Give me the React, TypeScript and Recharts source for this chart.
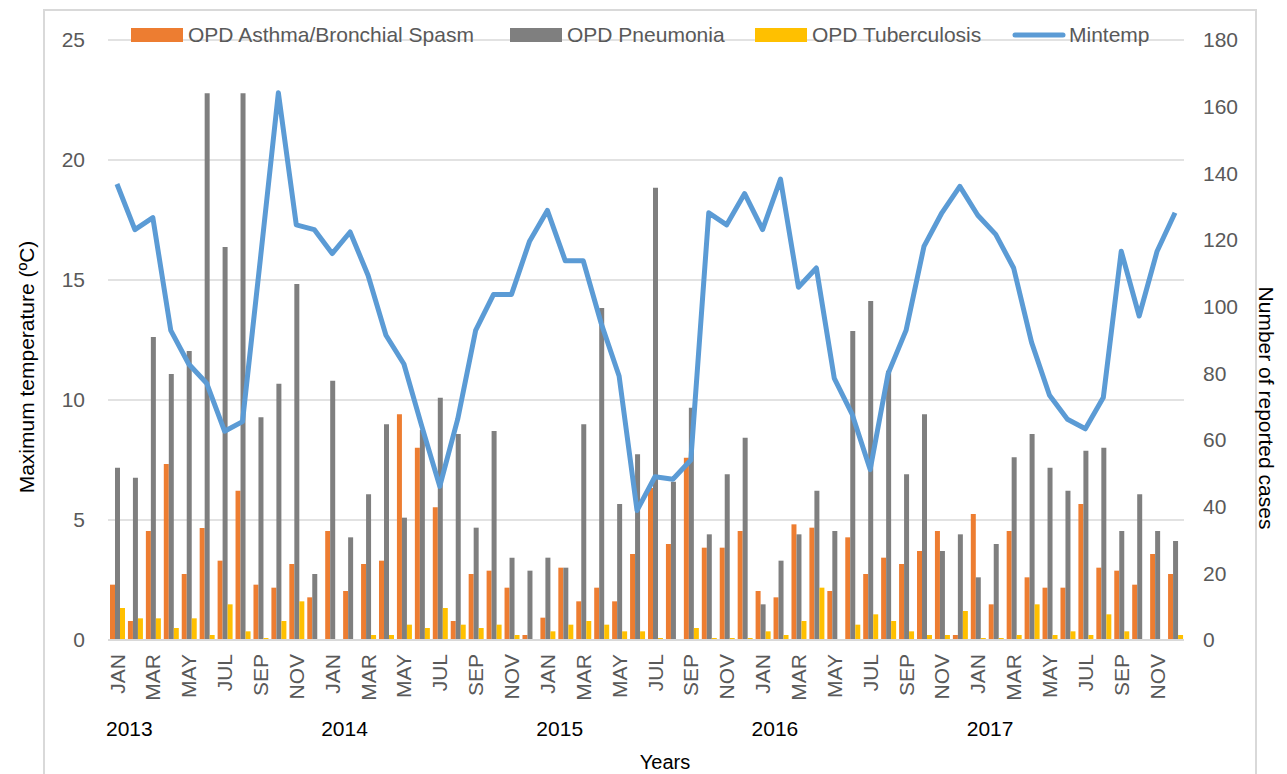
import { ComposedChart, Bar, Line, XAxis, YAxis, CartesianGrid } from 'recharts'

const monthNames = ['JAN', 'FEB', 'MAR', 'APR', 'MAY', 'JUN', 'JUL', 'AUG', 'SEP', 'OCT', 'NOV', 'DEC']
const years = ['2013', '2014', '2015', '2016', '2017']

// left axis, °C
const mintemp = [
  19.0, 17.1, 17.6, 12.9, 11.5, 10.7, 8.7, 9.1, 15.9, 22.8, 17.3, 17.1,
  16.1, 17.0, 15.2, 12.7, 11.5, 8.9, 6.4, 9.2, 12.9, 14.4, 14.4, 16.6,
  17.9, 15.8, 15.8, 13.2, 11.0, 5.4, 6.8, 6.7, 7.5, 17.8, 17.3, 18.6,
  17.1, 19.2, 14.7, 15.5, 10.9, 9.4, 7.1, 11.1, 12.9, 16.4, 17.8, 18.9,
  17.7, 16.9, 15.5, 12.4, 10.2, 9.2, 8.8, 10.1, 16.2, 13.5, 16.2, 17.8,
]

// right axis, reported cases
const asthma = [
  16.6, 5.7, 32.7, 52.8, 19.8, 33.6, 23.8, 44.8, 16.6, 15.7, 22.8, 12.8,
  32.7, 14.7, 22.8, 23.8, 67.7, 57.7, 39.8, 5.7, 19.8, 20.8, 15.7, 1.5,
  6.7, 21.7, 11.6, 15.7, 11.6, 25.8, 45.6, 28.8, 54.7, 27.7, 27.7, 32.7,
  14.7, 12.8, 34.7, 33.7, 14.7, 30.8, 19.8, 24.7, 22.8, 26.7, 32.7, 1.5,
  37.8, 10.7, 32.7, 18.8, 15.7, 15.7, 40.8, 21.7, 20.8, 16.6, 25.8, 19.8,
]
const pneumonia = [
  51.7, 48.7, 90.9, 79.8, 86.7, 164, 117.9, 164, 66.8, 76.9, 106.8, 19.8,
  77.8, 30.8, 43.7, 64.7, 36.7, 63, 72.7, 61.8, 33.7, 62.7, 24.7, 20.8,
  24.7, 21.7, 64.7, 99.6, 40.8, 55.7, 135.7, 47.5, 69.7, 31.7, 49.7, 60.7,
  10.7, 23.8, 31.7, 44.8, 32.7, 92.7, 101.7, 80.8, 49.7, 67.7, 26.7, 31.7,
  18.8, 28.8, 54.8, 61.8, 51.7, 44.8, 56.8, 57.7, 32.7, 43.7, 32.7, 29.7,
]
const tuberculosis = [
  9.6, 6.5, 6.5, 3.6, 6.5, 1.5, 10.7, 2.6, 0.6, 5.7, 11.6, 0,
  0, 0, 1.5, 1.5, 4.6, 3.6, 9.6, 4.6, 3.6, 4.6, 1.5, 0,
  2.6, 4.6, 5.7, 4.6, 2.6, 2.6, 0.6, 0, 3.6, 0.6, 0.6, 0.6,
  2.6, 1.5, 5.7, 15.7, 0, 4.6, 7.7, 5.7, 2.6, 1.5, 1.5, 8.7,
  0.6, 0.6, 1.5, 10.7, 1.5, 2.6, 1.5, 7.7, 2.6, 0, 0, 1.5,
]

const leftTicks = [0, 5, 10, 15, 20, 25]
const rightTicks = [0, 20, 40, 60, 80, 100, 120, 140, 160, 180]

const ORANGE = '#ED7D31'
const GRAY = '#7F7F7F'
const YELLOW = '#FFC000'
const BLUE = '#5B9BD5'
const TEXT = '#595959'
const FONT = '"Liberation Sans", Arial, sans-serif'

const legendItems = [
  { name: 'OPD Asthma/Bronchial Spasm', color: ORANGE, type: 'rect', x: 131 },
  { name: 'OPD Pneumonia', color: GRAY, type: 'rect', x: 510 },
  { name: 'OPD Tuberculosis', color: YELLOW, type: 'rect', x: 755 },
  { name: 'Mintemp', color: BLUE, type: 'line', x: 1012 },
]

const data = mintemp.map((t, i) => ({
  key: `${years[Math.floor(i / 12)]}-${monthNames[i % 12]}`,
  month: monthNames[i % 12],
  year: years[Math.floor(i / 12)],
  mintemp: t,
  asthma: asthma[i],
  pneumonia: pneumonia[i],
  tuberculosis: tuberculosis[i],
}))

function MonthTick(props: any) {
  const { x, y, payload } = props
  const i = payload.index
  const row = data[i]
  return (
    <g>
      {i % 2 === 0 && (
        <text
          x={x}
          y={y}
          transform={`rotate(-90 ${x} ${y})`}
          textAnchor="end"
          dy="0.36em"
          fill={TEXT}
          fontSize={21}
          fontFamily={FONT}
        >
          {row.month}
        </text>
      )}
      {i % 12 === 0 && (
        <text x={x - 11} y={y + 82} fill="#000" fontSize={21} fontFamily={FONT}>
          {row.year}
        </text>
      )}
    </g>
  )
}

export default function App() {
  return (
    <div style={{ position: 'absolute', left: 0, top: 0, width: 1287, height: 774, background: '#fff' }}>
      <ComposedChart
        width={1287}
        height={774}
        data={data}
        margin={{ top: 40, right: 0, bottom: 0, left: 0 }}
        barCategoryGap={2}
        barGap={0}
      >
        <CartesianGrid yAxisId="left" vertical={false} stroke="#D9D9D9" strokeWidth={1.5} />
        <XAxis
          dataKey="key"
          interval={0}
          height={134}
          tickSize={0}
          tickMargin={14}
          tick={<MonthTick />}
          stroke="#D9D9D9"
          strokeWidth={2}
        />
        <YAxis
          yAxisId="left"
          width={108}
          domain={[0, 25]}
          ticks={leftTicks}
          axisLine={false}
          tickLine={false}
          tickSize={0}
          tickMargin={23}
          tick={{ fill: TEXT, fontSize: 21, fontFamily: FONT }}
        />
        <YAxis
          yAxisId="right"
          orientation="right"
          width={103}
          domain={[0, 180]}
          ticks={rightTicks}
          axisLine={false}
          tickLine={false}
          tickSize={0}
          tickMargin={19}
          tick={{ fill: TEXT, fontSize: 21, fontFamily: FONT, textAnchor: 'start' }}
        />
        <Bar yAxisId="right" dataKey="asthma" name="OPD Asthma/Bronchial Spasm" fill={ORANGE} isAnimationActive={false} />
        <Bar yAxisId="right" dataKey="pneumonia" name="OPD Pneumonia" fill={GRAY} isAnimationActive={false} />
        <Bar yAxisId="right" dataKey="tuberculosis" name="OPD Tuberculosis" fill={YELLOW} isAnimationActive={false} />
        <Line
          yAxisId="left"
          type="linear"
          dataKey="mintemp"
          name="Mintemp"
          stroke={BLUE}
          strokeWidth={5}
          strokeLinejoin="round"
          dot={false}
          activeDot={false}
          isAnimationActive={false}
        />
      </ComposedChart>

      <svg
        width={1287}
        height={774}
        style={{ position: 'absolute', left: 0, top: 0, pointerEvents: 'none' }}
        fontFamily={FONT}
      >
        <path d="M44 774 V10 H1256 V774" fill="none" stroke="#D9D9D9" strokeWidth={2} />
        {legendItems.map((it) => (
          <g key={it.name}>
            {it.type === 'rect' ? (
              <rect x={it.x} y={28} width={52} height={14} fill={it.color} />
            ) : (
              <line x1={it.x + 3} y1={35} x2={it.x + 51} y2={35} stroke={it.color} strokeWidth={5} strokeLinecap="round" />
            )}
            <text x={it.x + 57} y={42} fill={TEXT} fontSize={21}>
              {it.name}
            </text>
          </g>
        ))}
        <text
          x={27}
          y={367}
          transform="rotate(-90 27 367)"
          textAnchor="middle"
          dy="0.35em"
          fontSize={21}
          fill="#000"
        >
          Maximum temperature (ºC)
        </text>
        <text
          x={1266}
          y={408}
          transform="rotate(90 1266 408)"
          textAnchor="middle"
          dy="0.35em"
          fontSize={21}
          fill="#000"
        >
          Number of reported cases
        </text>
        <text x={665} y={769} textAnchor="middle" fontSize={20} fill="#000">
          Years
        </text>
      </svg>
    </div>
  )
}
